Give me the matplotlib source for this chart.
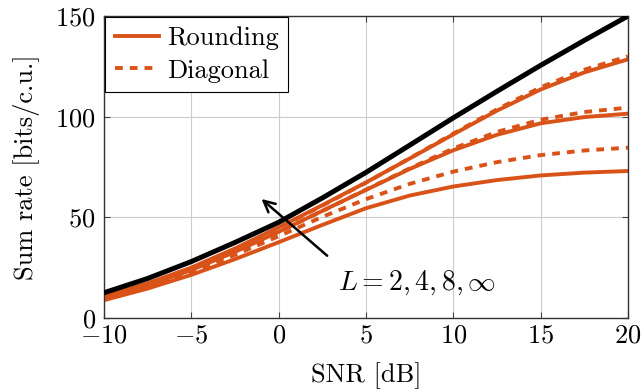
import matplotlib
matplotlib.use('Agg')
import matplotlib.pyplot as plt

plt.rcParams['font.family'] = 'serif'
plt.rcParams['font.serif'] = ['cmr10']
plt.rcParams['mathtext.fontset'] = 'cm'
plt.rcParams['axes.formatter.use_mathtext'] = True
plt.rcParams['font.size'] = 19

# %% data
snr = [-10, -7.5, -5, -2.5, 0, 2.5, 5, 7.5, 10, 12.5, 15, 17.5, 20]

upper = [12.5, 19.6, 28, 37.5, 47.5, 59.6, 72.3, 85.8, 99.4, 112.6, 125.5, 137.9, 150]

round_l8 = [10.8, 17.2, 25, 34.5, 45, 56, 67.3, 79.2, 91.2, 103, 113.5, 122, 128.5]
diag_l8 = [10.6, 17, 24.8, 34.3, 44.8, 55.8, 67.2, 79.3, 91.6, 103.6, 114.6, 123.3, 130]

round_l4 = [9.8, 16.2, 23.8, 32.8, 42.8, 53.2, 63.6, 74, 83.3, 91, 96.7, 99.8, 101.5]
diag_l4 = [9.6, 16, 23.6, 32.6, 42.6, 53.1, 63.7, 74.3, 84.2, 92.4, 98.5, 102.3, 104.5]

round_l2 = [8.8, 14.6, 21.4, 29.2, 37.6, 46.2, 54.5, 60.8, 65.3, 68.5, 70.8, 72.2, 73]
diag_l2 = [9.3, 15.5, 22.8, 31.3, 40.6, 50.2, 59, 66.6, 72.7, 77.4, 80.9, 83.2, 84.6]

# %%
orange = '#D95319'
dotted = (0, (2, 1.8))

fig = plt.figure(figsize=(6.44, 3.92), dpi=100)
ax = fig.add_axes([0.1615, 0.189, 0.8135, 0.770])

ax.plot(snr, upper, color='black', lw=3.6, zorder=5)
ax.plot(snr, round_l8, color=orange, lw=2.8, label='Rounding')
ax.plot(snr, diag_l8, color=orange, lw=2.8, ls=dotted, label='Diagonal')
ax.plot(snr, round_l4, color=orange, lw=2.8)
ax.plot(snr, diag_l4, color=orange, lw=2.8, ls=dotted)
ax.plot(snr, round_l2, color=orange, lw=2.8)
ax.plot(snr, diag_l2, color=orange, lw=2.8, ls=dotted)

ax.annotate('', xy=(-1.1, 60), xytext=(2.9, 30),
            arrowprops=dict(arrowstyle='->', color='black', lw=1.8,
                            mutation_scale=20))
ax.text(3.4, 17.5, r'$L = 2, 4, 8, \infty$', fontsize=20, va='center', ha='left')

ax.set_xlim(-10, 20)
ax.set_ylim(0, 150)
ax.set_xticks([-10, -5, 0, 5, 10, 15, 20])
ax.set_yticks([0, 50, 100, 150])
ax.grid(True, color='#cccccc', lw=0.8)
ax.set_axisbelow(True)
ax.tick_params(direction='in', top=True, right=True, length=4, color='#444444')
ax.tick_params(axis='x', pad=4)
ax.tick_params(axis='y', pad=6)
for s in ax.spines.values():
    s.set_color('#333333')
    s.set_linewidth(1.0)

ax.set_xlabel('SNR [dB]', labelpad=11)
ax.set_ylabel('Sum rate [bits/c.u.]', labelpad=11)

leg = ax.legend(loc='upper left', fancybox=False, edgecolor='black',
                framealpha=1, handlelength=1.7, handletextpad=0.3,
                borderaxespad=0.05, borderpad=0.35, labelspacing=0.32,
                fontsize=19)
leg.get_frame().set_linewidth(0.8)

plt.savefig('out.png', dpi=100)
